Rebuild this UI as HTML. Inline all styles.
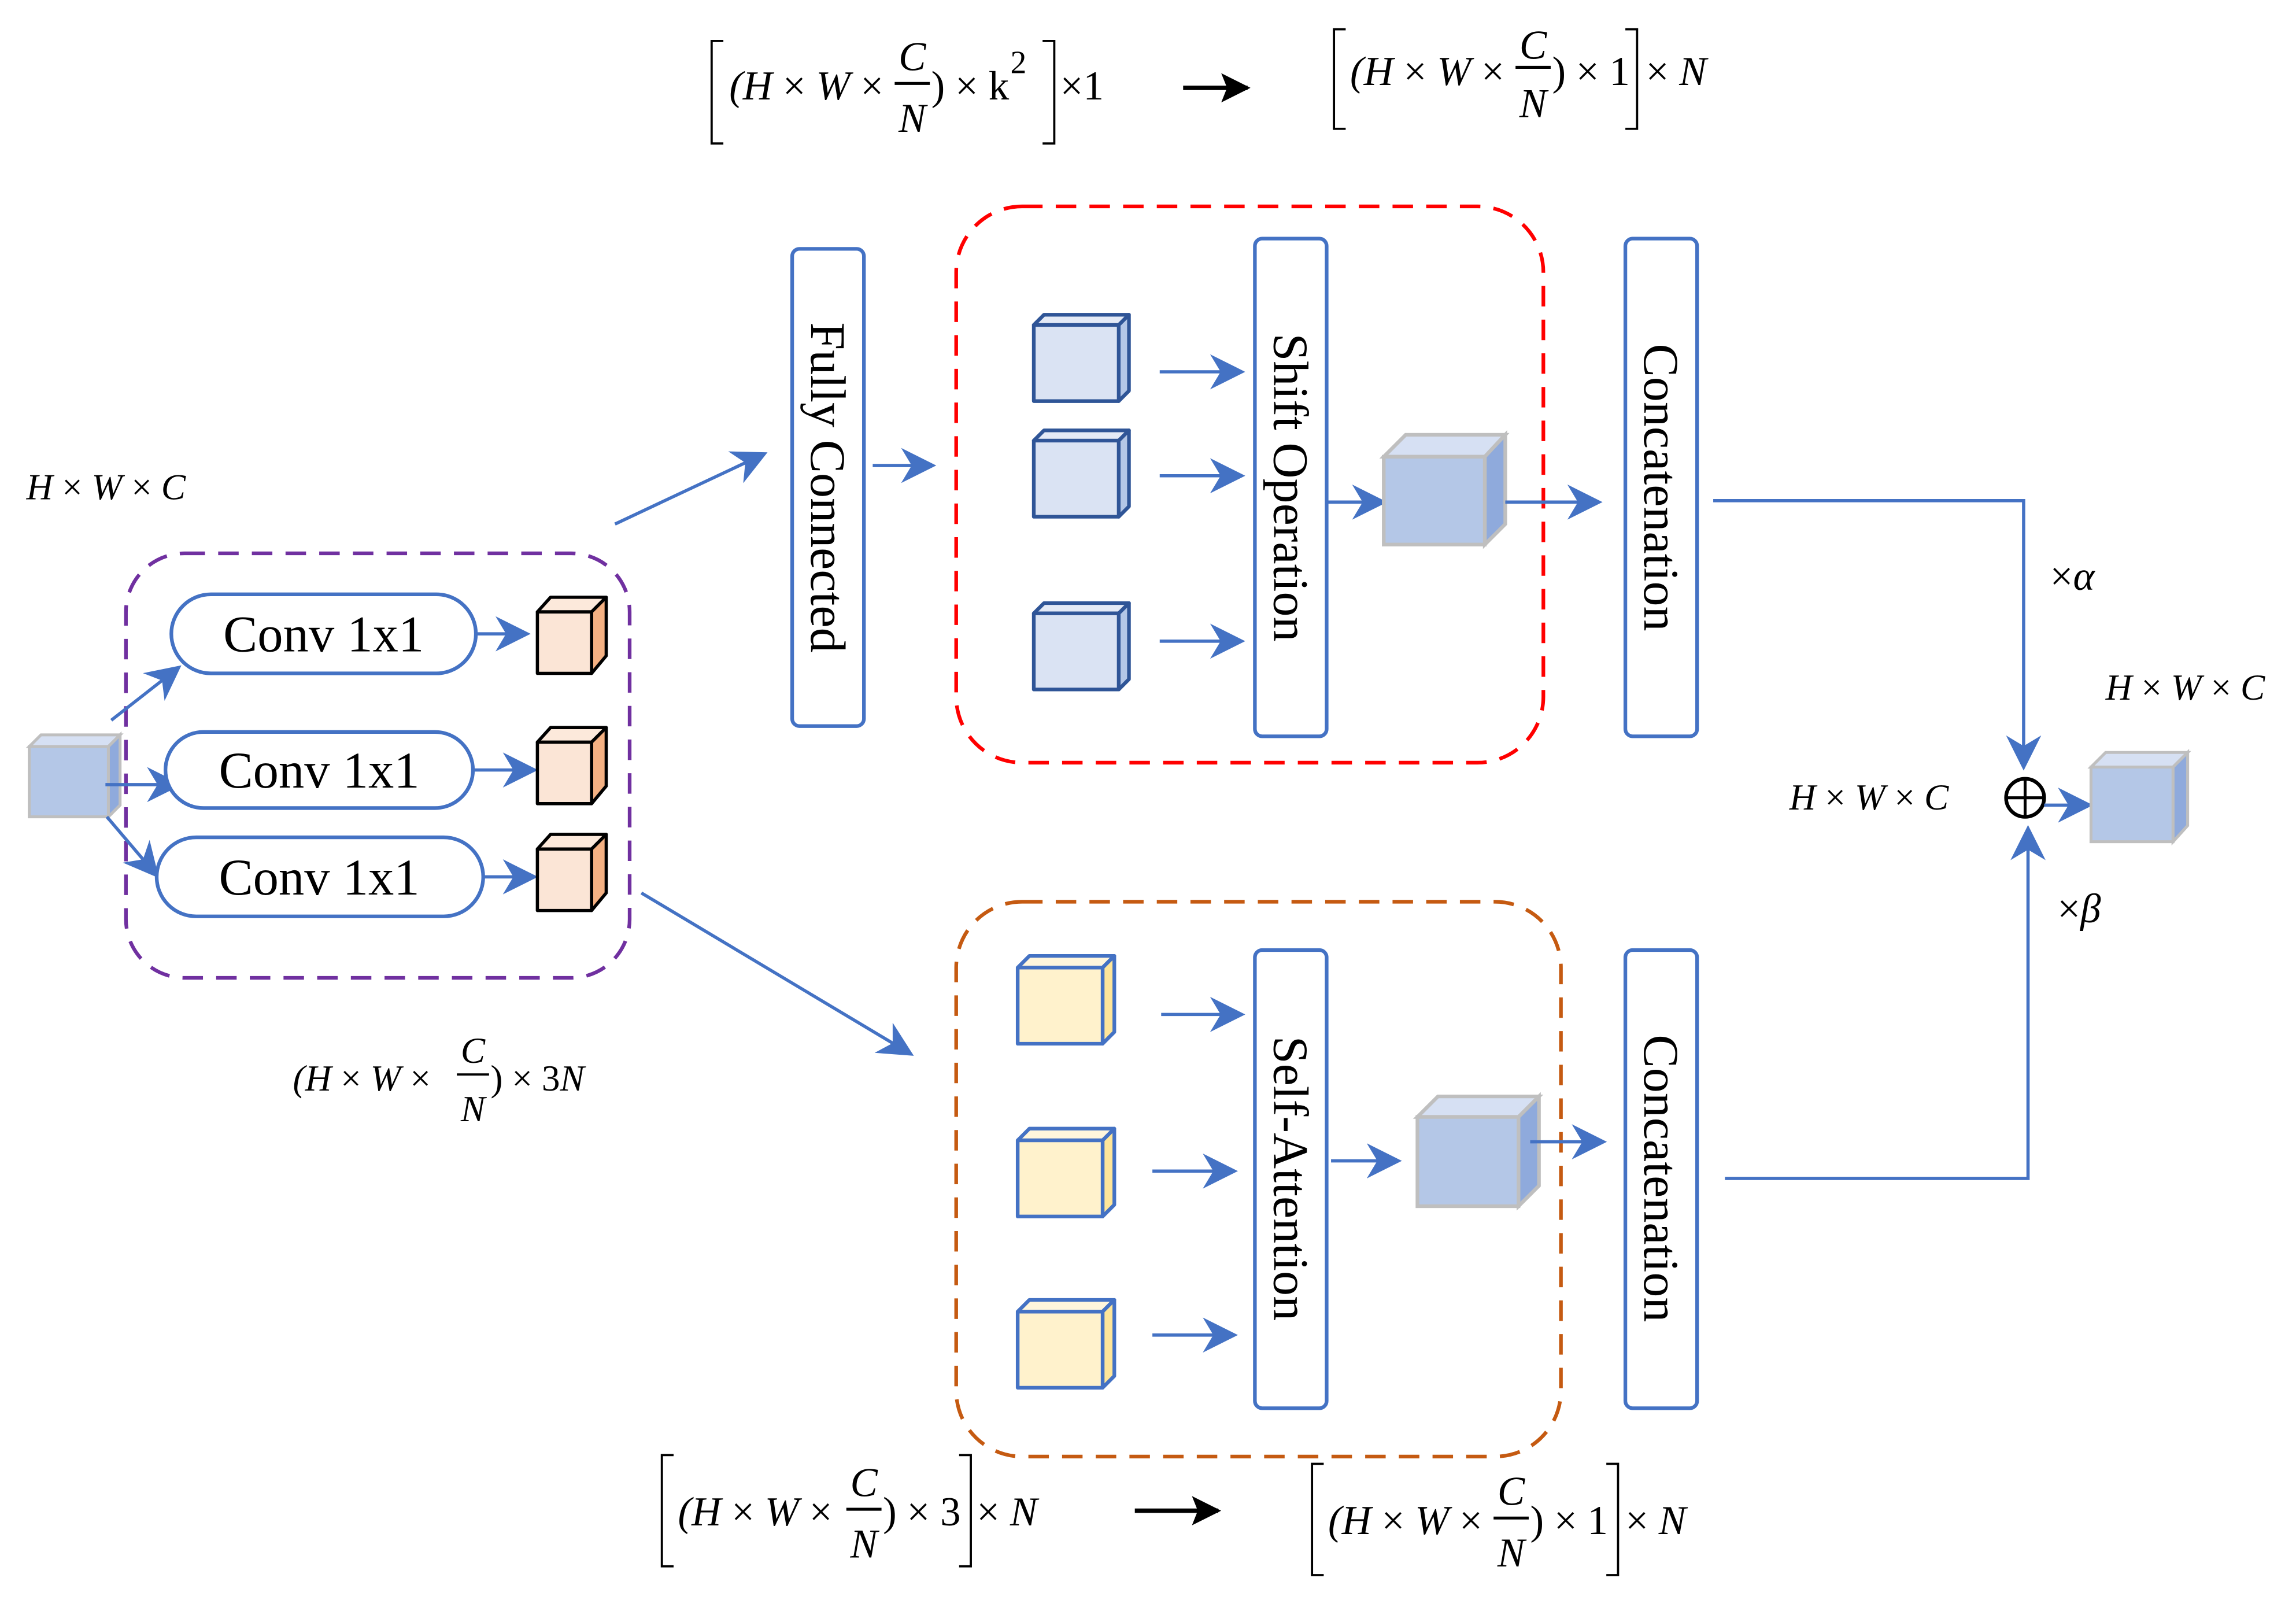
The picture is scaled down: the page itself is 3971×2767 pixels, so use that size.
<!DOCTYPE html>
<html><head><meta charset="utf-8"><style>
html,body{margin:0;padding:0;background:#fff;}
svg{display:block;}
svg text{font-family:"Liberation Serif","DejaVu Serif",serif !important;fill:#000;}
.it{font-style:italic;}
</style></head><body>
<svg width="3971" height="2767" viewBox="0 0 1568 1093" preserveAspectRatio="none" xmlns="http://www.w3.org/2000/svg" font-family="Liberation Serif, serif">
<defs>
<marker id="ah" viewBox="0 0 10 10" refX="9" refY="5" markerWidth="24" markerHeight="24" orient="auto" markerUnits="userSpaceOnUse">
<path d="M0,0 L10,5 L0,10 L3,5 z" fill="#4472c4"/></marker>
<marker id="ak" viewBox="0 0 10 10" refX="9" refY="5" markerWidth="20" markerHeight="20" orient="auto" markerUnits="userSpaceOnUse"><path d="M0,0 L10,5 L0,10 L2,5 z" fill="#000"/></marker>
</defs>
<style>
.ah{stroke:#4472c4;stroke-width:2.2;fill:none;marker-end:url(#ah);}
.box{fill:#fff;stroke:#4472c4;stroke-width:2.5;}
</style>

<!-- top formula -->
<g font-size="28">
<path d="M494,28 H486 V98 H494 M712,28 H720 V98 H712" stroke="#000" stroke-width="1.5" fill="none"/>
<text x="498" y="68" class="it">(H <tspan font-style="normal">×</tspan> W <tspan font-style="normal">×</tspan></text>
<text x="623" y="48" class="it" text-anchor="middle">C</text>
<line x1="611" y1="57" x2="635" y2="57" stroke="#000" stroke-width="2"/>
<text x="623" y="90" class="it" text-anchor="middle">N</text>
<text x="636" y="68">) × k</text><text x="690" y="50" font-size="22">2</text>
<text x="724" y="68">×1</text>
<line x1="808" y1="60" x2="852" y2="60" stroke="#000" stroke-width="3" marker-end="url(#ak)"/>
<path d="M919,20 H911 V88 H919 M1110,20 H1118 V88 H1110" stroke="#000" stroke-width="1.5" fill="none"/>
<text x="922" y="58" class="it">(H <tspan font-style="normal">×</tspan> W <tspan font-style="normal">×</tspan></text>
<text x="1047" y="40" class="it" text-anchor="middle">C</text>
<line x1="1035" y1="46" x2="1059" y2="46" stroke="#000" stroke-width="2"/>
<text x="1047" y="80" class="it" text-anchor="middle">N</text>
<text x="1060" y="58">) × 1</text>
<text x="1124" y="58">× <tspan class="it">N</tspan></text>
</g>

<!-- bottom formula -->
<g font-size="28">
<path d="M460,994 H452 V1070 H460 M655,994 H663 V1070 H655" stroke="#000" stroke-width="1.5" fill="none"/>
<text x="463" y="1042" class="it">(H <tspan font-style="normal">×</tspan> W <tspan font-style="normal">×</tspan></text>
<text x="590" y="1022" class="it" text-anchor="middle">C</text>
<line x1="578" y1="1031" x2="602" y2="1031" stroke="#000" stroke-width="2"/>
<text x="590" y="1064" class="it" text-anchor="middle">N</text>
<text x="603" y="1042">) × 3</text>
<text x="667" y="1042">× <tspan class="it">N</tspan></text>
<line x1="775" y1="1032" x2="832" y2="1032" stroke="#000" stroke-width="3" marker-end="url(#ak)"/>
<path d="M904,1000 H896 V1076 H904 M1097,1000 H1105 V1076 H1097" stroke="#000" stroke-width="1.5" fill="none"/>
<text x="907" y="1048" class="it">(H <tspan font-style="normal">×</tspan> W <tspan font-style="normal">×</tspan></text>
<text x="1032" y="1028" class="it" text-anchor="middle">C</text>
<line x1="1020" y1="1037" x2="1044" y2="1037" stroke="#000" stroke-width="2"/>
<text x="1032" y="1070" class="it" text-anchor="middle">N</text>
<text x="1045" y="1048">) × 1</text>
<text x="1110" y="1048">× <tspan class="it">N</tspan></text>
</g>

<!-- labels -->
<g font-size="25">
<text x="18" y="341" class="it">H <tspan font-style="normal">×</tspan> W <tspan font-style="normal">×</tspan> C</text>
<text x="200" y="745" class="it">(H <tspan font-style="normal">×</tspan> W <tspan font-style="normal">×</tspan></text>
<text x="323" y="726" class="it" text-anchor="middle">C</text>
<line x1="312" y1="734" x2="334" y2="734" stroke="#000" stroke-width="1.5"/>
<text x="323" y="766" class="it" text-anchor="middle">N</text>
<text x="335" y="745">) × 3<tspan class="it">N</tspan></text>
<text x="1222" y="553" class="it">H <tspan font-style="normal">×</tspan> W <tspan font-style="normal">×</tspan> C</text>
<text x="1438" y="478" class="it">H <tspan font-style="normal">×</tspan> W <tspan font-style="normal">×</tspan> C</text>
<text x="1400" y="403" font-size="28">×<tspan class="it">α</tspan></text>
<text x="1405" y="630" font-size="28">×<tspan class="it">β</tspan></text>
</g>

<!-- dashed groups -->
<rect x="86" y="378" width="344" height="290" rx="40" fill="none" stroke="#7030a0" stroke-width="2.5" stroke-dasharray="14,9"/>
<rect x="653" y="141" width="401" height="380" rx="45" fill="none" stroke="#ff0000" stroke-width="2.5" stroke-dasharray="14,9"/>
<rect x="653" y="616" width="413" height="379" rx="45" fill="none" stroke="#c55a11" stroke-width="2.5" stroke-dasharray="14,9"/>

<!-- input cube -->
<g stroke="#bfbfbf" stroke-width="2">
<polygon points="20,510 28,502 82,502 74,510" fill="#d6e0f3"/>
<polygon points="74,510 82,502 82,550 74,558" fill="#8faadc"/>
<rect x="20" y="510" width="54" height="48" fill="#b4c7e7"/>
</g>
<line x1="76" y1="492" x2="122" y2="456" class="ah"/>
<line x1="72" y1="536" x2="122" y2="536" class="ah"/>
<line x1="73" y1="558" x2="107" y2="598" class="ah"/>

<!-- conv pills -->
<rect x="117" y="406" width="208" height="54" rx="27" class="box"/>
<rect x="113" y="500" width="210" height="52" rx="26" class="box"/>
<rect x="107" y="572" width="223" height="54" rx="27" class="box"/>
<g font-size="35" text-anchor="middle">
<text x="221" y="445">Conv 1x1</text>
<text x="218" y="538">Conv 1x1</text>
<text x="218" y="611">Conv 1x1</text>
</g>
<line x1="325" y1="433" x2="360" y2="433" class="ah"/>
<line x1="323" y1="526" x2="365" y2="526" class="ah"/>
<line x1="330" y1="599" x2="365" y2="599" class="ah"/>

<!-- orange cubes -->
<g stroke="#000" stroke-width="2.2" stroke-linejoin="round">
<polygon points="367,418 376,408 414,408 404,418" fill="#fce9db"/><polygon points="404,418 414,408 414,448 404,460" fill="#f4b183"/><rect x="367" y="418" width="37" height="42" fill="#fbe5d6"/>
<polygon points="367,507 376,497 414,497 404,507" fill="#fce9db"/><polygon points="404,507 414,497 414,537 404,549" fill="#f4b183"/><rect x="367" y="507" width="37" height="42" fill="#fbe5d6"/>
<polygon points="367,580 376,570 414,570 404,580" fill="#fce9db"/><polygon points="404,580 414,570 414,610 404,622" fill="#f4b183"/><rect x="367" y="580" width="37" height="42" fill="#fbe5d6"/>
</g>

<line x1="420" y1="358" x2="522" y2="310" class="ah"/>
<line x1="438" y1="610" x2="622" y2="720" class="ah"/>

<!-- vertical boxes -->
<rect x="541" y="170" width="49" height="326" rx="5" class="box"/>
<rect x="857" y="163" width="49" height="340" rx="5" class="box"/>
<rect x="1110" y="163" width="49" height="340" rx="5" class="box"/>
<rect x="857" y="649" width="49" height="313" rx="5" class="box"/>
<rect x="1110" y="649" width="49" height="313" rx="5" class="box"/>
<g font-size="34" text-anchor="middle">
<text transform="translate(554,333) rotate(90)">Fully Connected</text>
<text transform="translate(870,333) rotate(90)">Shift Operation</text>
<text transform="translate(1123,333) rotate(90)">Concatenation</text>
<text transform="translate(870,805) rotate(90)">Self-Attention</text>
<text transform="translate(1123,805) rotate(90)">Concatenation</text>
</g>

<line x1="596" y1="318" x2="637" y2="318" class="ah"/>

<!-- blue small cubes -->
<g stroke="#2f5597" stroke-width="2.5" stroke-linejoin="round">
<polygon points="706,222 713,215 771,215 764,222" fill="#e4eaf6"/><polygon points="764,222 771,215 771,267 764,274" fill="#b4c7e7"/><rect x="706" y="222" width="58" height="52" fill="#dae3f3"/>
<polygon points="706,301 713,294 771,294 764,301" fill="#e4eaf6"/><polygon points="764,301 771,294 771,346 764,353" fill="#b4c7e7"/><rect x="706" y="301" width="58" height="52" fill="#dae3f3"/>
<polygon points="706,419 713,412 771,412 764,419" fill="#e4eaf6"/><polygon points="764,419 771,412 771,464 764,471" fill="#b4c7e7"/><rect x="706" y="419" width="58" height="52" fill="#dae3f3"/>
</g>
<line x1="792" y1="254" x2="848" y2="254" class="ah"/>
<line x1="792" y1="325" x2="848" y2="325" class="ah"/>
<line x1="792" y1="438" x2="848" y2="438" class="ah"/>
<line x1="907" y1="343" x2="945" y2="343" class="ah"/>

<g stroke="#bfbfbf" stroke-width="2.5">
<polygon points="945,312 960,297 1028,297 1014,312" fill="#d6e0f3"/>
<polygon points="1014,312 1028,297 1028,358 1014,372" fill="#8faadc"/>
<rect x="945" y="312" width="69" height="60" fill="#b4c7e7"/>
</g>
<line x1="1028" y1="343" x2="1092" y2="343" class="ah"/>

<!-- yellow cubes -->
<g stroke="#4472c4" stroke-width="2.5" stroke-linejoin="round">
<polygon points="695,661 703,653 761,653 753,661" fill="#fff6dc"/><polygon points="753,661 761,653 761,705 753,713" fill="#ffe699"/><rect x="695" y="661" width="58" height="52" fill="#fff2cc"/>
<polygon points="695,779 703,771 761,771 753,779" fill="#fff6dc"/><polygon points="753,779 761,771 761,823 753,831" fill="#ffe699"/><rect x="695" y="779" width="58" height="52" fill="#fff2cc"/>
<polygon points="695,896 703,888 761,888 753,896" fill="#fff6dc"/><polygon points="753,896 761,888 761,940 753,948" fill="#ffe699"/><rect x="695" y="896" width="58" height="52" fill="#fff2cc"/>
</g>
<line x1="793" y1="693" x2="848" y2="693" class="ah"/>
<line x1="787" y1="800" x2="843" y2="800" class="ah"/>
<line x1="787" y1="912" x2="843" y2="912" class="ah"/>
<line x1="909" y1="793" x2="955" y2="793" class="ah"/>

<g stroke="#bfbfbf" stroke-width="2.5">
<polygon points="968,763 982,749 1051,749 1037,763" fill="#d6e0f3"/>
<polygon points="1037,763 1051,749 1051,810 1037,824" fill="#8faadc"/>
<rect x="968" y="763" width="69" height="61" fill="#b4c7e7"/>
</g>
<line x1="1045" y1="780" x2="1095" y2="780" class="ah"/>

<!-- merge lines -->
<polyline points="1170,342 1382,342 1382,524" class="ah"/>
<polyline points="1178,805 1385,805 1385,566" class="ah"/>
<ellipse cx="1383" cy="545" rx="13" ry="13" fill="#fff" stroke="#000" stroke-width="2.5"/>
<line x1="1370" y1="545" x2="1396" y2="545" stroke="#000" stroke-width="2"/>
<line x1="1383" y1="532" x2="1383" y2="558" stroke="#000" stroke-width="2"/>
<line x1="1396" y1="550" x2="1427" y2="550" class="ah"/>

<g stroke="#bfbfbf" stroke-width="2">
<polygon points="1428,524 1438,514 1494,514 1484,524" fill="#d6e0f3"/>
<polygon points="1484,524 1494,514 1494,564 1484,575" fill="#8faadc"/>
<rect x="1428" y="524" width="56" height="51" fill="#b4c7e7"/>
</g>
</svg>
</body></html>
